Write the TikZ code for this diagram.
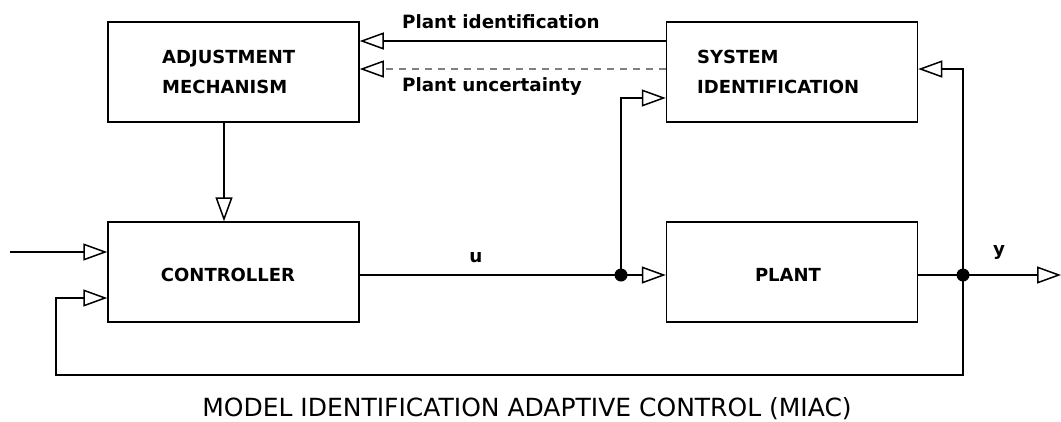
\documentclass[tikz,border=0pt]{standalone}
\usepackage{fontspec}
\setmainfont{DejaVu Sans}
\usetikzlibrary{arrows.meta,calc}
\begin{document}
\begin{tikzpicture}[x=1pt,y=-1pt,
  blk/.style={draw, line width=1.5pt, minimum width=251pt, minimum height=100pt, inner sep=0pt},
  lbl/.style={font=\fontsize{18}{30}\selectfont\bfseries, inner sep=0pt, align=left},
  sig/.style={font=\fontsize{18.3}{20}\selectfont\bfseries, inner sep=0pt},
  wire/.style={line width=1.5pt},
  arr/.style={wire, -{Triangle[open, length=24pt, width=17pt, line width=1.5pt, color=black]}},
  dot/.style={circle, fill=black, inner sep=0pt, minimum size=13pt}]
\useasboundingbox (0,0) rectangle (1061,421);

% blocks
\node[blk] (adj)   at (233.5,72)  {};
\node[blk] (sysid) at (792,72)    {};
\node[blk] (ctrl)  at (233.5,272) {};
\node[blk] (plant) at (792,272)   {};

% block captions
\node[lbl, anchor=west] (adjtxt) at (162,72) {ADJUSTMENT\\MECHANISM};
\node[lbl, anchor=west] (systxt) at (697,72) {SYSTEM\\IDENTIFICATION};
\node[lbl] (ctrltxt) at (228,275) {CONTROLLER};
\node[lbl] (planttxt) at (788,275) {PLANT};

% signal points
\coordinate (in)  at (10,252);
\coordinate (out) at (1061,275);
\node[dot] (j1) at (621,275) {};
\node[dot] (j2) at (963,275) {};
\coordinate (fbr) at (963,375);
\coordinate (fbl) at (56,375);

% identification paths
\draw[arr] ($(sysid.west)+(0,-31)$) -- ($(adj.east)+(0,-31)$);
\draw[arr, gray, dash pattern=on 7pt off 6pt] ($(sysid.west)+(0,-3)$) -- ($(adj.east)+(0,-3)$);
\node[sig, anchor=west] (lid) at (402,22) {Plant identification};
\node[sig, anchor=west] (lunc) at (402,87) {Plant uncertainty};

% adjustment to controller
\draw[arr] ($(adj.south)+(-9.5,0)$) -- ($(ctrl.north)+(-9.5,0)$);

% main loop
\draw[arr] (in) -- ($(ctrl.west)+(0,-20)$);
\draw[wire] ($(ctrl.east)+(0,3)$) -- (j1.center);
\draw[arr] (j1.center) -- ($(plant.west)+(0,3)$);
\draw[arr] (j1.center) |- ($(sysid.west)+(0,26)$);
\draw[wire] ($(plant.east)+(0,3)$) -- (j2.center);
\draw[arr] (j2.center) -- (out);
\draw[arr] (j2.center) |- ($(sysid.east)+(0,-3)$);
\draw[arr] (j2.center) -- (fbr) -- (fbl) |- ($(ctrl.west)+(0,26)$);

\node[sig] (lu) at (476,258) {u};
\node[sig] (ly) at (999,252) {y};

% title
\node[font=\fontsize{25}{30}\selectfont, inner sep=0pt, anchor=base] (title) at (527,416)
  {MODEL IDENTIFICATION ADAPTIVE CONTROL (MIAC)};
\end{tikzpicture}
\end{document}
